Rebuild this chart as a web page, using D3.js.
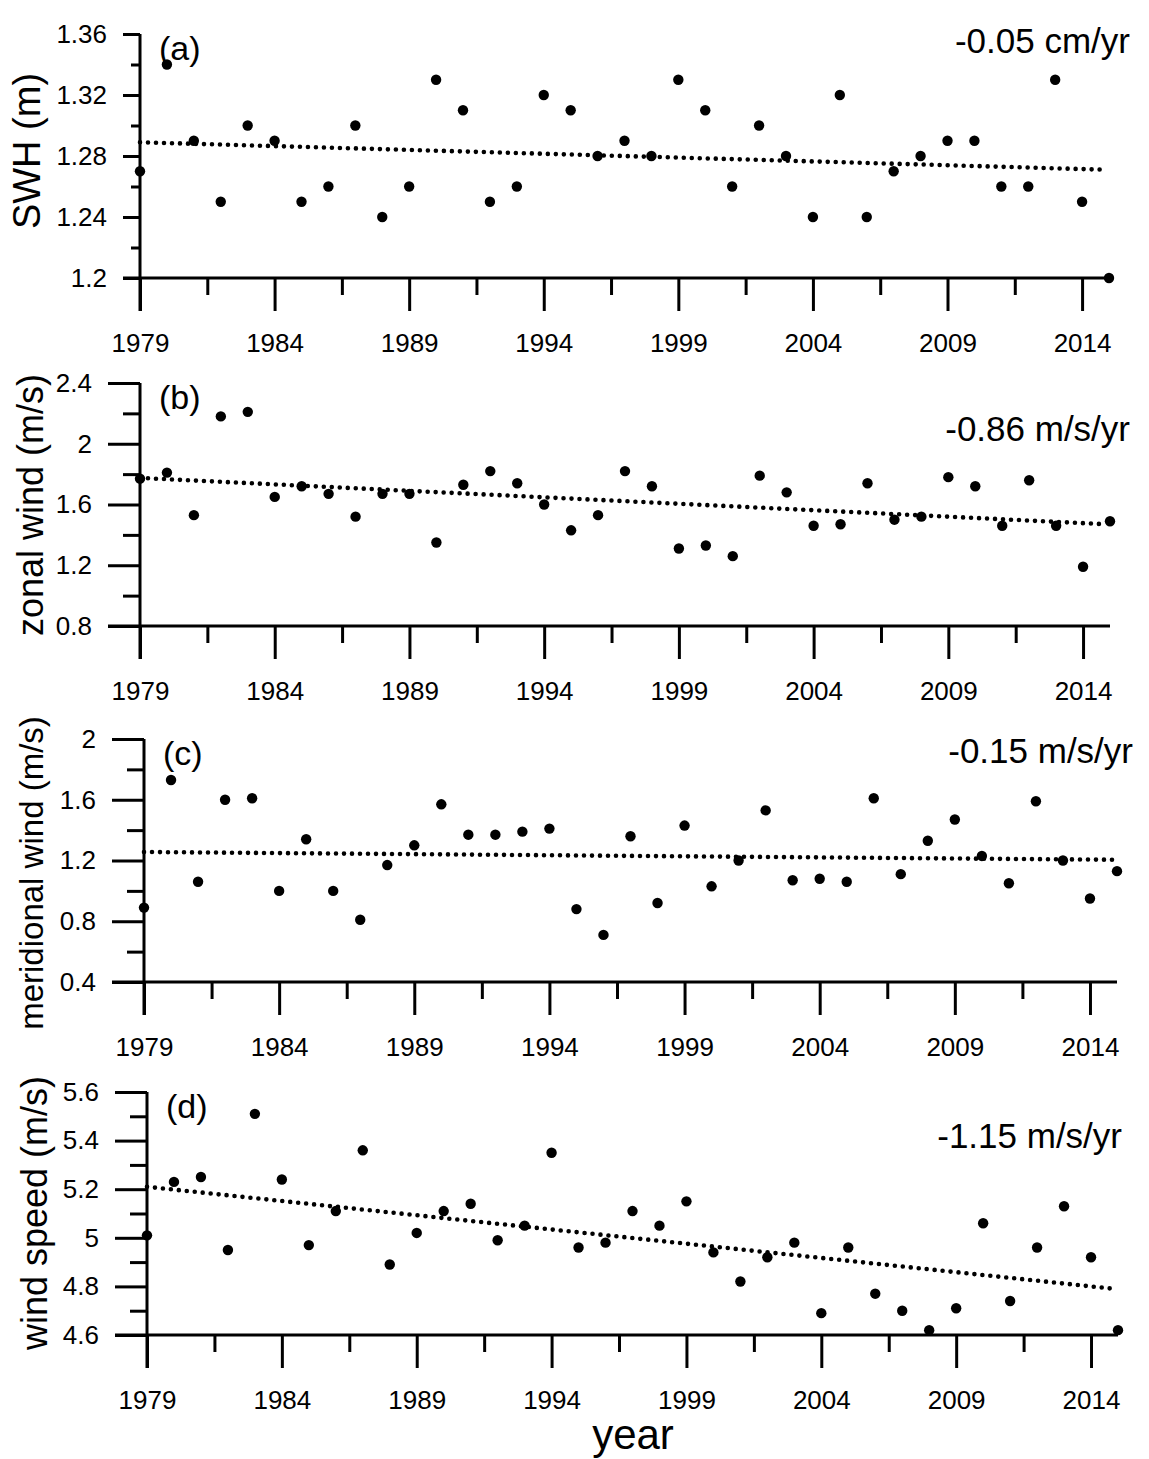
<!DOCTYPE html>
<html>
<head>
<meta charset="utf-8">
<script src="https://cdn.jsdelivr.net/npm/d3@7"></script>
<style>
  html, body { margin: 0; padding: 0; background: #fff; }
  svg { display: block; }
  text { font-family: "Liberation Sans", Arial, sans-serif; fill: #000; }
</style>
</head>
<body>
<script>
// ---------------- DATA ----------------
const years = [1979,1980,1981,1982,1983,1984,1985,1986,1987,1988,1989,1990,1991,1992,1993,1994,1995,1996,1997,1998,
               1999,2000,2001,2002,2003,2004,2005,2006,2007,2008,2009,2010,2011,2012,2013,2014,2015];

const swh = [1.27,1.34,1.29,1.25,1.30,1.29,1.25,1.26,1.30,1.24,1.26,1.33,1.31,1.25,1.26,1.32,1.31,1.28,1.29,1.28,
             1.33,1.31,1.26,1.30,1.28,1.24,1.32,1.24,1.27,1.28,1.29,1.29,1.26,1.26,1.33,1.25,1.20];

const zonalWind = [1.77,1.81,1.53,2.18,2.21,1.65,1.72,1.67,1.52,1.67,1.67,1.35,1.73,1.82,1.74,1.60,1.43,1.53,1.82,1.72,
                   1.31,1.33,1.26,1.79,1.68,1.46,1.47,1.74,1.50,1.52,1.78,1.72,1.46,1.76,1.46,1.19,1.49];

const meridionalWind = [0.89,1.73,1.06,1.60,1.61,1.00,1.34,1.00,0.81,1.17,1.30,1.57,1.37,1.37,1.39,1.41,0.88,0.71,1.36,0.92,
                        1.43,1.03,1.20,1.53,1.07,1.08,1.06,1.61,1.11,1.33,1.47,1.23,1.05,1.59,1.20,0.95,1.13];

const windSpeed = [5.01,5.23,5.25,4.95,5.51,5.24,4.97,5.11,5.36,4.89,5.02,5.11,5.14,4.99,5.05,5.35,4.96,4.98,5.11,5.05,
                   5.15,4.94,4.82,4.92,4.98,4.69,4.96,4.77,4.70,4.62,4.71,5.06,4.74,4.96,5.13,4.92,4.62];

// linear trend end values (at 1979 and 2015)
const swhTrend = [1.289, 1.271];
const zonalTrend = [1.775, 1.47];
const meridionalTrend = [1.256, 1.205];
const speedTrend = [5.21, 4.79];

const xTickLabels = [1979,1984,1989,1994,1999,2004,2009,2014];
const xMinorTicks = [1981.5,1986.5,1991.5,1996.5,2001.5,2006.5,2011.5];

const swhTicks = [1.2,1.24,1.28,1.32,1.36];
const swhMinor = [1.22,1.26,1.30,1.34];
const zonalTicks = [0.8,1.2,1.6,2,2.4];
const zonalMinor = [1.0,1.4,1.8,2.2];
const meridionalTicks = [0.4,0.8,1.2,1.6,2];
const meridionalMinor = [0.6,1.0,1.4,1.8];
const speedTicks = [4.6,4.8,5,5.2,5.4,5.6];
const speedMinor = [4.7,4.9,5.1,5.3,5.5];

const panelLetters = ["(a)","(b)","(c)","(d)"];
const yTitles = ["SWH (m)","zonal wind (m/s)","meridional wind (m/s)","wind speed (m/s)"];
const trendLabels = ["-0.05 cm/yr","-0.86 m/s/yr","-0.15 m/s/yr","-1.15 m/s/yr"];
const xTitle = "year";

// ---------------- LAYOUT ----------------
const W = 1149, H = 1459;
const svg = d3.select("body").append("svg").attr("width", W).attr("height", H);

const panels = [
  { values: swh, trend: swhTrend, ticks: swhTicks, minor: swhMinor, dom: [1.2,1.36],
    left: 140, right: 1109, top: 34, bottom: 278, yMaj: 17, yMin: 9,
    titleX: 40, titleY: 151, titleSize: 38, slopeX: 1130, slopeY: 53,
    fmt: d => d3.format(".2f")(d).replace(/0$/, "").replace(/\.$/, "") },
  { values: zonalWind, trend: zonalTrend, ticks: zonalTicks, minor: zonalMinor, dom: [0.8,2.4],
    left: 140, right: 1110, top: 383, bottom: 626, yMaj: 32, yMin: 17,
    titleX: 43, titleY: 505, titleSize: 36, slopeX: 1130, slopeY: 441, fmt: d => String(d) },
  { values: meridionalWind, trend: meridionalTrend, ticks: meridionalTicks, minor: meridionalMinor, dom: [0.4,2],
    left: 144, right: 1117, top: 739, bottom: 982, yMaj: 32, yMin: 17,
    titleX: 43, titleY: 873, titleSize: 33, slopeX: 1133, slopeY: 763, fmt: d => String(d) },
  { values: windSpeed, trend: speedTrend, ticks: speedTicks, minor: speedMinor, dom: [4.6,5.6],
    left: 147, right: 1118, top: 1092, bottom: 1335, yMaj: 32, yMin: 17,
    titleX: 47, titleY: 1213, titleSize: 36, slopeX: 1122, slopeY: 1148, fmt: d => String(d) }
];

const AX = 3; // axis stroke width

panels.forEach((p, i) => {
  const x = d3.scaleLinear().domain([1979, 2015]).range([p.left, p.right]);
  const y = d3.scaleLinear().domain(p.dom).range([p.bottom, p.top]);
  const g = svg.append("g");

  // x axis major
  const xAxis = d3.axisBottom(x).tickValues(xTickLabels).tickFormat(d3.format("d"))
    .tickSize(33).tickSizeOuter(0);
  const gx = g.append("g").attr("transform", `translate(0,${p.bottom})`).call(xAxis);
  gx.select(".domain").attr("stroke", "#000").attr("stroke-width", AX)
    .attr("d", `M${p.left - p.yMaj},0H${p.right}`);
  gx.selectAll(".tick line").attr("stroke", "#000").attr("stroke-width", AX);
  gx.selectAll(".tick text").attr("font-size", 26).attr("font-family", "Liberation Sans, Arial, sans-serif")
    .attr("y", 74).attr("dy", 0);

  // x minor ticks
  const gxm = g.append("g").attr("transform", `translate(0,${p.bottom})`)
    .call(d3.axisBottom(x).tickValues(xMinorTicks).tickSize(17).tickSizeOuter(0).tickFormat(""));
  gxm.select(".domain").remove();
  gxm.selectAll(".tick line").attr("stroke", "#000").attr("stroke-width", AX);

  // y axis major
  const yAxis = d3.axisLeft(y).tickValues(p.ticks).tickFormat(p.fmt).tickSize(p.yMaj).tickSizeOuter(0).tickPadding(16);
  const gy = g.append("g").attr("transform", `translate(${p.left},0)`).call(yAxis);
  gy.select(".domain").attr("stroke", "#000").attr("stroke-width", AX)
    .attr("d", `M0,${p.top}V${p.bottom + 33}`);
  gy.selectAll(".tick line").attr("stroke", "#000").attr("stroke-width", AX);
  gy.selectAll(".tick text").attr("font-size", 26).attr("font-family", "Liberation Sans, Arial, sans-serif");

  const gym = g.append("g").attr("transform", `translate(${p.left},0)`)
    .call(d3.axisLeft(y).tickValues(p.minor).tickSize(p.yMin).tickFormat("").tickSizeOuter(0));
  gym.select(".domain").remove();
  gym.selectAll(".tick line").attr("stroke", "#000").attr("stroke-width", AX);

  // trend line (dotted)
  g.append("line")
    .attr("x1", x(1979)).attr("y1", y(p.trend[0]))
    .attr("x2", x(2015) - 4).attr("y2", y(p.trend[1]))
    .attr("stroke", "#000").attr("stroke-width", 4.6)
    .attr("stroke-linecap", "round").attr("stroke-dasharray", "0,8");

  // points
  g.selectAll("circle.pt").data(p.values).join("circle")
    .attr("class", "pt")
    .attr("cx", (d, k) => x(years[k])).attr("cy", d => y(d))
    .attr("r", 5.2).attr("fill", "#000");

  // panel letter
  g.append("text").attr("x", p.left + 19).attr("y", p.top + 2).attr("dy", "0.71em")
    .attr("font-size", 34).text(panelLetters[i]);

  // slope label
  g.append("text").attr("x", p.slopeX).attr("y", p.slopeY).attr("text-anchor", "end")
    .attr("font-size", 35).text(trendLabels[i]);

  // y title
  g.append("text").attr("transform", `translate(${p.titleX},${p.titleY}) rotate(-90)`)
    .attr("text-anchor", "middle").attr("font-size", p.titleSize).text(yTitles[i]);
});

svg.append("text").attr("x", 633).attr("y", 1449).attr("text-anchor", "middle")
  .attr("font-size", 42).text(xTitle);
</script>
</body>
</html>
